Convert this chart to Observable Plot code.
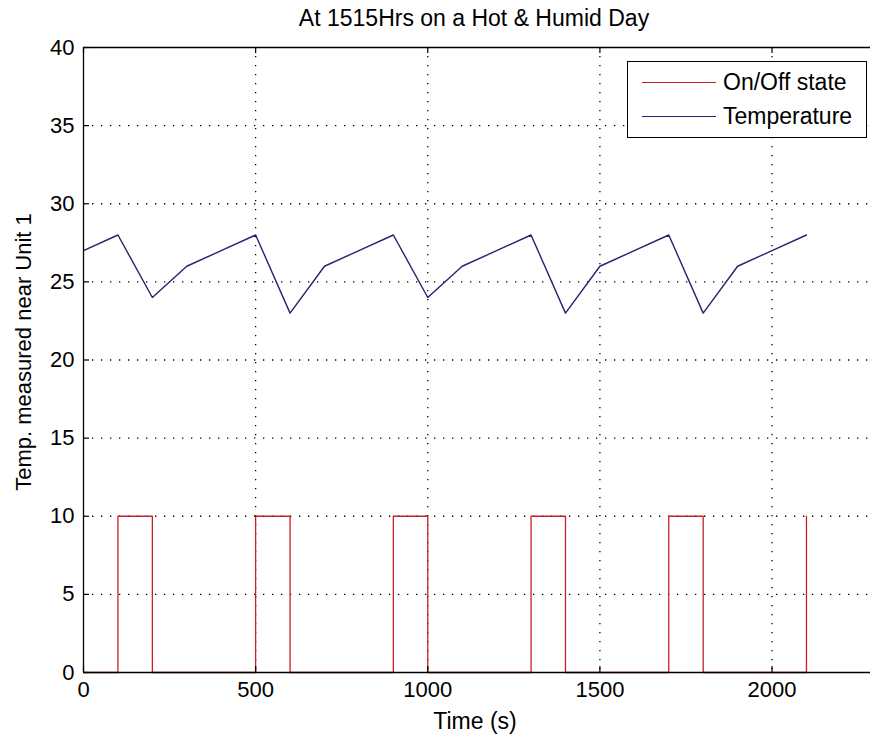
<!DOCTYPE html>
<html>
<head>
<meta charset="utf-8">
<script src="https://cdn.jsdelivr.net/npm/d3@7"></script>
<script src="https://cdn.jsdelivr.net/npm/@observablehq/plot@0.6"></script>
<style>
  html, body { margin: 0; padding: 0; background: #fff; overflow: hidden; }
  #wrap { position: relative; width: 870px; height: 744px; font-family: "Liberation Sans", Arial, sans-serif; color: #000; }
  #title { position: absolute; left: 474px; top: 18px; transform: translate(-50%, -50%); white-space: nowrap; font-size: 23px; }
  #ylabel { position: absolute; left: 24px; top: 352px; transform: translate(-50%, -50%) rotate(-90deg); white-space: nowrap; font-size: 22px; }
  #xlabel { position: absolute; left: 475px; top: 721px; transform: translate(-50%, -50%); white-space: nowrap; font-size: 23px; }
  #legend { position: absolute; left: 627px; top: 61px; width: 238px; height: 75px; border: 1px solid #000; background: #fff; font-size: 23px; }
  .lrow { position: absolute; left: 0; height: 30px; line-height: 30px; }
  .lrow .sw { position: absolute; left: 14px; top: 15px; width: 74px; height: 0; border-top: 1.2px solid; }
  .lrow .tx { position: absolute; left: 95px; top: 0; white-space: nowrap; }
  #plot { position: absolute; left: 0; top: 0; }
</style>
</head>
<body>
<div id="wrap">
  <div id="plot"></div>
  <div id="title">At 1515Hrs on a Hot &amp; Humid Day</div>
  <div id="ylabel">Temp. measured near Unit 1</div>
  <div id="xlabel">Time (s)</div>
  <div id="legend">
    <div class="lrow" style="top:5px"><div class="sw" style="border-color:#c8202a"></div><div class="tx">On/Off state</div></div>
    <div class="lrow" style="top:39px"><div class="sw" style="border-color:#24246e"></div><div class="tx">Temperature</div></div>
  </div>
</div>
<script>
// ---- data ----
const tempTime = [0,100,200,300,400,500,600,700,800,900,1000,1100,1200,1300,1400,1500,1600,1700,1800,1900,2000,2100];
const tempValue = [27,28,24,26,27,28,23,26,27,28,24,26,27,28,23,26,27,28,23,26,27,28];
const stateTime = [0,100,100,200,200,500,500,600,600,900,900,1000,1000,1300,1300,1400,1400,1700,1700,1800,1800,2100,2100];
const stateValue = [0,0,10,10,0,0,10,10,0,0,10,10,0,0,10,10,0,0,10,10,0,0,10];
const xTicks = [0,500,1000,1500,2000];
const yTicks = [0,5,10,15,20,25,30,35,40];
const seriesNames = ["On/Off state","Temperature"];
const seriesColors = ["#c8202a","#24246e"];

// ---- layout ----
const W = 870, H = 744;
const mL = 83, mT = 47, mB = H - 672, mR = 0;
const xMax = 2286;
const pxPerX = (W - mL - mR) / xMax;
const pxPerY = (H - mT - mB) / 40;
const tickLen = 6;

const temp = tempTime.map((t, i) => ({t, v: tempValue[i]}));
const state = stateTime.map((t, i) => ({t, v: stateValue[i]}));
const dotted = {stroke: "#000", strokeWidth: 1.3, strokeDasharray: "1.3,7.7"};

const chart = Plot.plot({
  width: W, height: H,
  marginLeft: mL, marginRight: mR, marginTop: mT, marginBottom: mB,
  style: {fontFamily: "Liberation Sans, Arial, sans-serif", fontSize: "22px", color: "#000", background: "transparent"},
  x: {domain: [0, xMax], ticks: xTicks},
  y: {domain: [0, 40], ticks: yTicks},
  marks: [
    Plot.ruleY(yTicks.filter(d => d > 0 && d < 40), {...dotted}),
    Plot.ruleX(xTicks.filter(d => d > 0), {...dotted}),
    Plot.line(state, {x: "t", y: "v", stroke: seriesColors[0], strokeWidth: 1.3}),
    Plot.line(temp, {x: "t", y: "v", stroke: seriesColors[1], strokeWidth: 1.4}),
    // inward ticks
    Plot.ruleY(yTicks, {y: d => d, x1: 0, x2: tickLen / pxPerX, stroke: "#000", strokeWidth: 1.2}),
    Plot.ruleX(xTicks, {x: d => d, y1: 0, y2: tickLen / pxPerY, stroke: "#000", strokeWidth: 1.2}),
    Plot.ruleX(xTicks, {x: d => d, y1: 40 - tickLen / pxPerY, y2: 40, stroke: "#000", strokeWidth: 1.2}),
    // frame
    Plot.ruleY([0, 40], {stroke: "#000", strokeWidth: 1.3}),
    Plot.ruleX([0], {stroke: "#000", strokeWidth: 1.3}),
    Plot.axisX({ticks: xTicks, tickSize: 0, tickPadding: 9, tickFormat: d3.format("d"), label: null, fontSize: 22}),
    Plot.axisY({ticks: yTicks, tickSize: 0, tickPadding: 9, label: null, fontSize: 22})
  ]
});
document.getElementById("plot").appendChild(chart);
</script>
</body>
</html>
